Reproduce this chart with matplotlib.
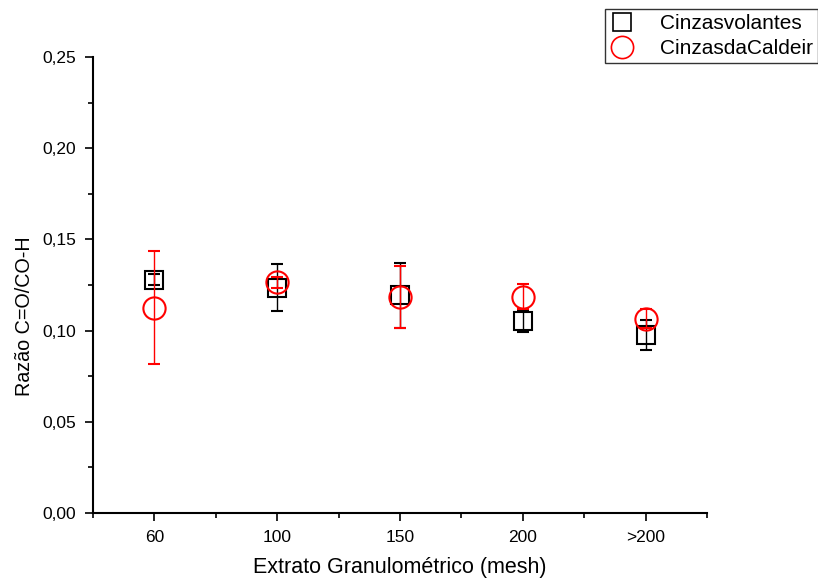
import matplotlib
matplotlib.use("Agg")
import matplotlib.pyplot as plt
from matplotlib.ticker import MultipleLocator, FuncFormatter
from matplotlib.lines import Line2D

plt.rcParams['font.family'] = ['Liberation Sans', 'DejaVu Sans']

categories = ["60", "100", "150", "200", ">200"]
volantes = [0.128, 0.1236, 0.1193, 0.1054, 0.0976]
volantes_err = [0.003, 0.013, 0.018, 0.006, 0.008]
caldeira = [0.1126, 0.1265, 0.1183, 0.1186, 0.1066]
caldeira_err = [0.031, 0.003, 0.017, 0.007, 0.005]
labels = ["Cinzasvolantes", "CinzasdaCaldeir"]

fig = plt.figure(figsize=(8.18, 5.8), dpi=100)
ax = fig.add_axes([0.1137, 0.1155, 0.7505, 0.7862])

x = list(range(1, len(categories) + 1))
ax.errorbar(x, volantes, yerr=volantes_err, fmt='s', ms=13, mfc='none', mec='black',
            mew=1.5, ecolor='black', elinewidth=1, capsize=4, capthick=1, zorder=3)
ax.errorbar(x, caldeira, yerr=caldeira_err, fmt='o', ms=16, mfc='none', mec='red',
            mew=1.5, ecolor='red', elinewidth=1, capsize=4, capthick=1, zorder=4)

ax.set_xlim(0.5, 5.5)
ax.set_ylim(0, 0.25)
ax.set_xticks(x)
ax.set_xticklabels(categories)
ax.xaxis.set_minor_locator(MultipleLocator(0.5))
ax.yaxis.set_major_locator(MultipleLocator(0.05))
ax.yaxis.set_minor_locator(MultipleLocator(0.025))
ax.yaxis.set_major_formatter(FuncFormatter(lambda v, p: f"{v:.2f}".replace('.', ',')))

for s in ['top', 'right']:
    ax.spines[s].set_visible(False)
for s in ['left', 'bottom']:
    ax.spines[s].set_linewidth(1.5)
ax.tick_params(which='major', direction='out', length=6, width=1.2, labelsize=12.5, pad=6)
ax.tick_params(which='minor', direction='out', length=3.5, width=1.2)

ax.set_xlabel("Extrato Granulométrico (mesh)", fontsize=15.5)
ax.set_ylabel("Razão C=O/CO-H", fontsize=14.2)
ax.xaxis.set_label_coords(0.5, -0.097)
ax.yaxis.set_label_coords(-0.096, 0.432)

handles = [
    Line2D([], [], ls='none', marker='s', ms=13, mfc='none', mec='black', mew=1.2),
    Line2D([], [], ls='none', marker='o', ms=16, mfc='none', mec='red', mew=1.2),
]
leg = fig.legend(handles, labels, loc='upper right', bbox_to_anchor=(1.0, 0.985),
                 borderaxespad=0.0,
                 fontsize=15, frameon=True, fancybox=False, edgecolor='black',
                 handlelength=1.2, handletextpad=1.2, borderpad=0.25, labelspacing=0.3)
leg.get_frame().set_linewidth(1.0)

fig.savefig("out.png", dpi=100)
